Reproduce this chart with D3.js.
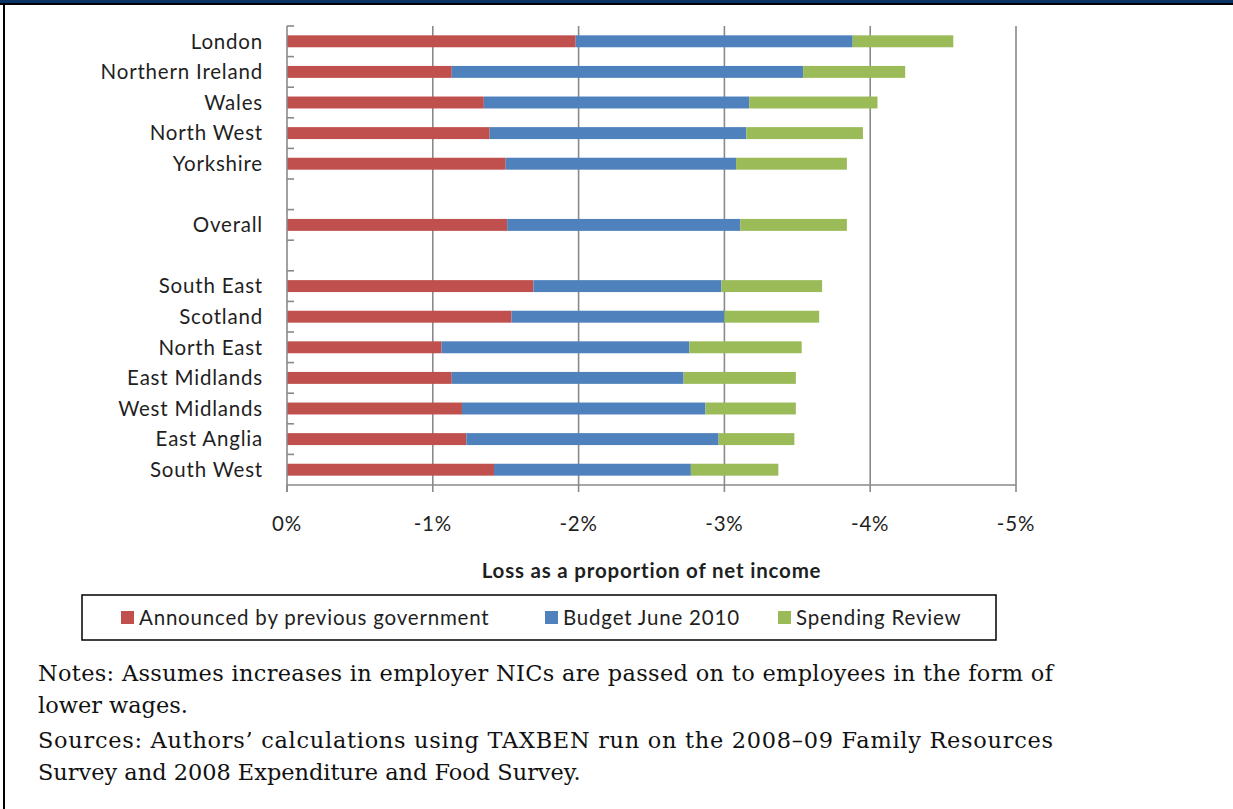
<!DOCTYPE html>
<html><head><meta charset="utf-8">
<script src="https://cdn.jsdelivr.net/npm/d3@7"></script>
<style>body{margin:0;background:#fff}svg{display:block}</style>
</head><body><svg id="c" width="1233" height="809"></svg>
<script>
// ---- data ----
const regions = ["London","Northern Ireland","Wales","North West","Yorkshire","","Overall","","South East","Scotland","North East","East Midlands","West Midlands","East Anglia","South West"];
const previousGov    = [-1.98,-1.13,-1.35,-1.39,-1.50,0,-1.51,0,-1.69,-1.54,-1.06,-1.13,-1.20,-1.23,-1.42];
const budget2010     = [-1.90,-2.41,-1.82,-1.76,-1.58,0,-1.60,0,-1.29,-1.46,-1.70,-1.59,-1.67,-1.73,-1.35];
const spendingReview = [-0.69,-0.70,-0.88,-0.80,-0.76,0,-0.73,0,-0.69,-0.65,-0.77,-0.77,-0.62,-0.52,-0.60];
const seriesNames = ["Announced by previous government","Budget June 2010","Spending Review"];
const seriesColors = ["#C0504D","#4F81BD","#9BBB59"];
const xTicks = [0,-1,-2,-3,-4,-5];
const xTitle = "Loss as a proportion of net income";
const notes = [
  "Notes: Assumes increases in employer NICs are passed on to employees in the form of",
  "lower wages.",
  "Sources: Authors\u2019 calculations using TAXBEN run on the 2008\u201309 Family Resources",
  "Survey and 2008 Expenditure and Food Survey."
];

const svg = d3.select("#c");
const font = "Lato, 'Open Sans', sans-serif";
const txt = "#1f1f1f";
const fsz = 20.5, ls = 0.8;

// frame
svg.append("rect").attr("x",0).attr("y",0).attr("width",1233).attr("height",3).attr("fill","#0B3466");
svg.append("rect").attr("x",0).attr("y",3).attr("width",1233).attr("height",2).attr("fill","#000");
svg.append("rect").attr("x",3).attr("y",3).attr("width",2).attr("height",806).attr("fill","#000");

const rows = regions.map((r,i)=>({i, name:r, a:previousGov[i], b:budget2010[i], c:spendingReview[i]}));
const x = d3.scaleLinear().domain([0,-5]).range([287,1016]);
const y = d3.scaleBand().domain(d3.range(regions.length)).range([26,485]).paddingInner(0.61).paddingOuter(0.305);
const step = y.step();

const gridC = "#8a8a8a";
// gridlines
svg.append("g").selectAll("line").data(xTicks.slice(1)).join("line")
  .attr("x1",d=>x(d)).attr("x2",d=>x(d)).attr("y1",26).attr("y2",485)
  .attr("stroke",gridC).attr("stroke-width",1.6);

// bars
const stack = d3.stack().keys(["a","b","c"]).offset(d3.stackOffsetDiverging);
const stacked = stack(rows.filter(r=>r.name!==""));
svg.append("g").selectAll("g").data(stacked).join("g")
  .attr("fill",(d,i)=>seriesColors[i])
  .selectAll("rect").data(d=>d).join("rect")
  .attr("x",d=>Math.min(x(d[0]),x(d[1]))).attr("width",d=>Math.abs(x(d[1])-x(d[0])))
  .attr("y",d=>y(d.data.i)).attr("height",y.bandwidth());

// x axis line & ticks
svg.append("line").attr("x1",x(0)).attr("x2",x(-5)).attr("y1",485).attr("y2",485).attr("stroke",gridC).attr("stroke-width",1.6);
svg.append("g").selectAll("line").data(xTicks).join("line")
  .attr("x1",d=>x(d)).attr("x2",d=>x(d)).attr("y1",485).attr("y2",492)
  .attr("stroke",gridC).attr("stroke-width",1.6);
svg.append("g").selectAll("text").data(xTicks).join("text")
  .attr("x",d=>x(d)).attr("y",531).attr("text-anchor","middle")
  .attr("font-family",font).attr("font-size",fsz).attr("letter-spacing",ls).attr("fill",txt)
  .text(d=>d===0?"0%":d+"%");
svg.append("text").attr("x",(x(0)+x(-5))/2).attr("y",578).attr("text-anchor","middle")
  .attr("font-family",font).attr("font-size",fsz).attr("letter-spacing",ls).attr("font-weight","bold").attr("fill",txt).text(xTitle);

// y axis
svg.append("line").attr("x1",x(0)).attr("x2",x(0)).attr("y1",26).attr("y2",492).attr("stroke",gridC).attr("stroke-width",1.6);
svg.append("g").selectAll("line").data(d3.range(regions.length)).join("line")
  .attr("x1",x(0)).attr("x2",x(0)+7).attr("y1",i=>26+i*step).attr("y2",i=>26+i*step)
  .attr("stroke",gridC).attr("stroke-width",1.6);
svg.append("g").selectAll("text").data(rows).join("text")
  .attr("x",263).attr("y",d=>y(d.i)+y.bandwidth()/2).attr("dy","0.36em").attr("text-anchor","end")
  .attr("font-family",font).attr("font-size",fsz).attr("letter-spacing",ls).attr("fill",txt).text(d=>d.name);

// legend
svg.append("rect").attr("x",82).attr("y",595).attr("width",914).attr("height",45)
  .attr("fill","none").attr("stroke","#000").attr("stroke-width",1.5);
const legX = [121,545,778];
const lg = svg.append("g").selectAll("g").data(seriesNames).join("g")
  .attr("transform",(d,i)=>`translate(${legX[i]},611)`);
lg.append("rect").attr("width",13).attr("height",13).attr("fill",(d,i)=>seriesColors[i]);
lg.append("text").attr("x",18).attr("y",6.5).attr("dy","0.36em")
  .attr("font-family",font).attr("font-size",fsz).attr("letter-spacing",ls).attr("fill",txt).text(d=>d);

// notes
const nf = "'DejaVu Serif', serif";
const noteY = [681,713,748,780];
const justified = [true,false,true,false];
const nt = svg.append("g").selectAll("text").data(notes).join("text")
  .attr("x",38).attr("y",(d,i)=>noteY[i])
  .attr("font-family",nf).attr("font-size",20).attr("fill","#111").text(d=>d);
// fit size to the reference's last line width
const ref = nt.nodes()[3].getComputedTextLength();
const fs = 20*543/ref;
nt.attr("font-size",fs);
nt.filter((d,i)=>justified[i]).attr("textLength",1015).attr("lengthAdjust","spacing");
</script></body></html>
